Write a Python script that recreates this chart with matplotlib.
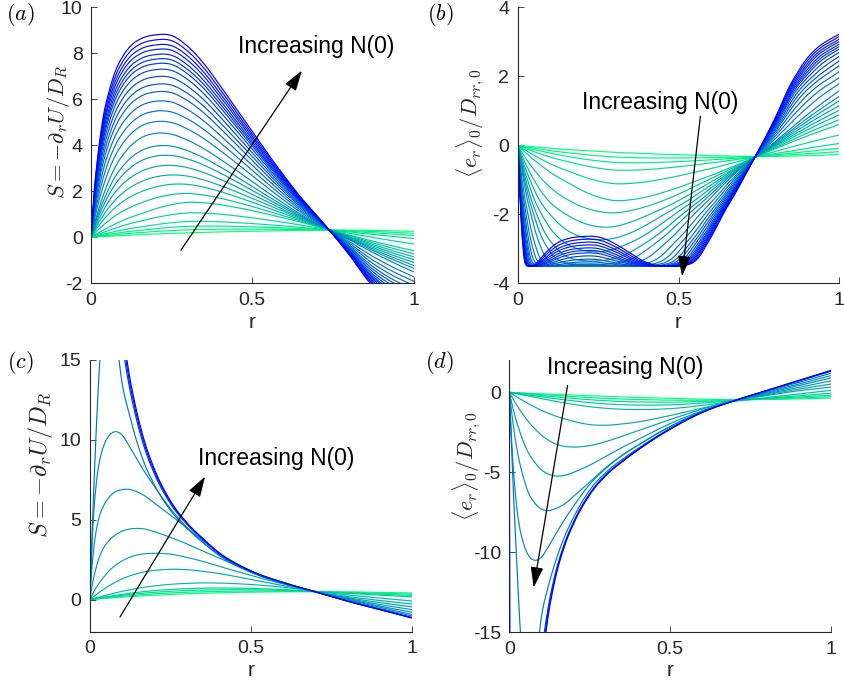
import numpy as np
import matplotlib
matplotlib.use("Agg")
import matplotlib.pyplot as plt

plt.rcParams['font.family'] = ['Liberation Sans', 'DejaVu Sans']
plt.rcParams['mathtext.fontset'] = 'cm'
plt.rcParams['axes.unicode_minus'] = False

# ---------------- data ----------------
# panels (a)/(b): radial grid and four read template curves of S(r)
r_ab = [0, 0.01, 0.02, 0.03, 0.04, 0.055, 0.075, 0.1, 0.125, 0.15, 0.2, 0.25, 0.3,
        0.35, 0.4, 0.45, 0.5, 0.55, 0.6, 0.65, 0.7, 0.736, 0.8, 0.866, 0.93, 1.0]
Sa_peak883 = [0, 2.0, 3.4, 4.5, 5.4, 6.3, 7.2, 7.9, 8.35, 8.6, 8.8, 8.77, 8.3,
              7.55, 6.6, 5.6, 4.6, 3.6, 2.65, 1.75, 0.95, 0.36, -0.75, -2.0, -2.8, -3.3]
Sa_peak453 = [0, 0.55, 1.05, 1.5, 1.9, 2.45, 3.05, 3.6, 4.0, 4.28, 4.52, 4.48, 4.22,
              3.85, 3.4, 2.92, 2.42, 1.93, 1.45, 1.0, 0.6, 0.35, -0.1, -0.6, -1.05, -1.5]
Sa_peak152 = [0, 0.09, 0.17, 0.25, 0.33, 0.44, 0.58, 0.74, 0.88, 1.0, 1.24, 1.42, 1.52,
              1.5, 1.42, 1.3, 1.16, 1.0, 0.84, 0.66, 0.48, 0.34, 0.1, -0.14, -0.36, -0.58]
Sa_peak020 = [0, 0.01, 0.02, 0.03, 0.035, 0.045, 0.06, 0.08, 0.1, 0.115, 0.145, 0.17, 0.195,
              0.215, 0.235, 0.25, 0.265, 0.28, 0.29, 0.3, 0.31, 0.315, 0.31, 0.3, 0.28, 0.26]
template_keys_a = [0.2, 1.52, 4.53, 8.83]
# peak heights of all curves in panel (a), low N(0) -> high N(0)
peaks_a = [0.2, 0.33, 0.48, 0.69, 1.06, 1.52, 1.95, 2.39, 2.79, 3.2, 3.62, 4.02, 4.53,
           5.04, 5.5, 5.93, 6.34, 6.67, 7.0, 7.31, 7.57, 7.77, 7.97, 8.19, 8.39, 8.61, 8.83]
# response <e_r>/D = -F(S) read by pairing panel (a) with panel (b)
F_S = [0, 0.5, 1, 1.5, 2, 2.5, 3, 3.3, 3.6, 4, 4.5, 5, 5.5, 6, 6.5, 7, 7.5, 8, 8.5, 9, 10]
F_val = [0, 0.52, 1.05, 1.58, 2.05, 2.55, 2.98, 3.22, 3.37, 3.46, 3.5, 3.5, 3.5, 3.48,
         3.41, 3.3, 3.14, 2.96, 2.76, 2.57, 2.2]

# panels (c)/(d): radial grid and read curves
r_cd = [0, 0.005, 0.01, 0.02, 0.03, 0.045, 0.06, 0.08, 0.1, 0.12, 0.14, 0.17, 0.2,
        0.25, 0.3, 0.35, 0.4, 0.5, 0.6, 0.69, 0.8, 0.9, 1.0]
c_green = [0, 0.01, 0.02, 0.04, 0.06, 0.08, 0.1, 0.13, 0.16, 0.19, 0.21, 0.25, 0.28,
           0.33, 0.37, 0.4, 0.43, 0.47, 0.49, 0.5, 0.49, 0.46, 0.42]
c_1p05 = [0, 0.03, 0.06, 0.12, 0.17, 0.25, 0.33, 0.43, 0.52, 0.6, 0.68, 0.78, 0.86,
          0.96, 1.02, 1.05, 1.04, 0.95, 0.78, 0.55, 0.3, 0.1, -0.08]
c_1p9 = [0, 0.08, 0.16, 0.32, 0.47, 0.68, 0.87, 1.1, 1.3, 1.46, 1.59, 1.74, 1.83,
         1.9, 1.88, 1.78, 1.64, 1.26, 0.88, 0.55, 0.2, -0.05, -0.27]
c_2p9 = [0, 0.2, 0.4, 0.75, 1.05, 1.45, 1.8, 2.15, 2.42, 2.62, 2.76, 2.87, 2.9,
         2.85, 2.65, 2.4, 2.1, 1.52, 0.98, 0.55, 0.13, -0.18, -0.45]
c_4p45 = [0, 0.6, 1.15, 2.0, 2.65, 3.3, 3.7, 4.05, 4.28, 4.4, 4.45, 4.42, 4.25,
          3.9, 3.5, 3.05, 2.62, 1.72, 1.03, 0.55, 0.08, -0.3, -0.62]
c_6p9 = [0, 1.5, 2.7, 4.3, 5.2, 5.95, 6.4, 6.75, 6.88, 6.9, 6.8, 6.5, 6.05,
         5.3, 4.5, 3.7, 2.95, 1.8, 1.05, 0.55, 0.04, -0.4, -0.78]
c_10p5 = [0, 2.5, 4.6, 7.2, 8.6, 9.7, 10.25, 10.5, 10.3, 9.7, 9.0, 8.0, 7.1,
          5.7, 4.55, 3.6, 2.8, 1.72, 1.02, 0.55, 0.0, -0.47, -0.92]
c_big = [0, 2.8, 5.5, 10.5, 14.5, 18.5, 19.5, 16.8, 13.6, 11.8, 10.3, 8.5, 7.2,
         5.6, 4.5, 3.6, 2.8, 1.75, 1.05, 0.55, -0.05, -0.55, -1.02]
c_env = [0, 80, 100, 85, 60, 38, 28, 21, 17.3, 14.4, 12.3, 9.9, 8.2,
         6.2, 4.85, 3.85, 2.95, 1.8, 1.08, 0.55, -0.1, -0.62, -1.15]
c_green_at04 = [0.43, 0.52, 0.62, 0.73]          # green curves, values at r = 0.4
c_env_share = [0.7, 0.85, 1.0]                    # bundle hugging the envelope

d_green = [0, -0.005, -0.01, -0.02, -0.03, -0.045, -0.06, -0.075, -0.09, -0.11, -0.125,
           -0.15, -0.17, -0.21, -0.25, -0.29, -0.32, -0.38, -0.43, -0.46, -0.45, -0.41, -0.36]
d_1p08 = [0, -0.02, -0.04, -0.08, -0.12, -0.18, -0.24, -0.32, -0.4, -0.48, -0.55, -0.66,
          -0.76, -0.9, -1.0, -1.06, -1.08, -1.02, -0.82, -0.58, -0.33, -0.1, 0.12]
d_2p06 = [0, -0.06, -0.12, -0.25, -0.37, -0.55, -0.72, -0.93, -1.13, -1.3, -1.46, -1.65,
          -1.82, -2.02, -2.06, -1.98, -1.85, -1.45, -0.98, -0.58, -0.2, 0.1, 0.33]
d_3p4 = [0, -0.18, -0.36, -0.7, -1.02, -1.45, -1.85, -2.3, -2.68, -2.98, -3.2, -3.37,
         -3.42, -3.33, -3.08, -2.75, -2.4, -1.7, -1.05, -0.58, -0.15, 0.2, 0.52]
d_5p2 = [0, -0.45, -0.88, -1.65, -2.3, -3.15, -3.8, -4.4, -4.85, -5.1, -5.22, -5.2,
         -5.0, -4.55, -4.0, -3.45, -2.95, -1.95, -1.15, -0.58, -0.1, 0.3, 0.72]
d_7p4 = [0, -0.9, -1.7, -3.1, -4.2, -5.4, -6.3, -6.95, -7.3, -7.4, -7.3, -7.0,
         -6.5, -5.6, -4.7, -3.95, -3.3, -2.12, -1.2, -0.58, -0.05, 0.42, 0.9]
d_10p5 = [0, -2.2, -4.0, -6.6, -8.2, -9.5, -10.2, -10.5, -10.3, -9.7, -9.0, -8.0,
          -7.1, -5.75, -4.75, -3.95, -3.3, -2.15, -1.2, -0.58, 0.0, 0.52, 1.05]
d_big = [0, -2.5, -5.0, -9.3, -13.4, -18, -19.6, -17.3, -14.0, -12.2, -10.8, -9.1,
         -7.8, -6.1, -5.0, -4.2, -3.5, -2.25, -1.22, -0.58, 0.06, 0.62, 1.2]
d_env = [0, -80, -100, -85, -62, -40, -29, -22, -17.4, -14.1, -11.9, -9.7,
         -8.2, -6.4, -5.2, -4.35, -3.6, -2.3, -1.25, -0.58, 0.12, 0.75, 1.38]
d_green_at04 = [-0.32, -0.45, -0.6, -0.8]
d_env_share = [0.7, 0.85, 1.0]

# colour positions on the winter map (1 = green, 0 = blue) for panels (c)/(d)
cd_color_pos = [1.0, 0.93, 0.86, 0.8, 0.74, 0.68, 0.64, 0.6, 0.57, 0.53, 0.45, 0.25, 0.12, 0.0]


# ---------------- helpers ----------------
def spline(x, y, xn):
    x = np.asarray(x, float); y = np.asarray(y, float); xn = np.asarray(xn, float)
    h = np.diff(x); d = np.diff(y) / h
    m = np.empty_like(y)
    m[0] = d[0]; m[-1] = d[-1]
    m[1:-1] = (h[1:] * d[:-1] + h[:-1] * d[1:]) / (h[:-1] + h[1:])
    idx = np.clip(np.searchsorted(x, xn) - 1, 0, len(h) - 1)
    t = (xn - x[idx]) / h[idx]
    h00 = 2 * t**3 - 3 * t**2 + 1
    h10 = t**3 - 2 * t**2 + t
    h01 = -2 * t**3 + 3 * t**2
    h11 = t**3 - t**2
    return h00 * y[idx] + h10 * h[idx] * m[idx] + h01 * y[idx + 1] + h11 * h[idx] * m[idx + 1]


rr = np.linspace(0, 1, 2001)
rr_cd = np.unique(np.concatenate([np.linspace(0, 0.05, 1001), np.linspace(0.05, 1, 2001)]))

tmpl_a = [spline(r_ab, t, rr) for t in (Sa_peak020, Sa_peak152, Sa_peak453, Sa_peak883)]
curves_a = []
for p in peaks_a:
    i = min(np.searchsorted(template_keys_a, p, side='right') - 1, len(template_keys_a) - 2)
    w = (p - template_keys_a[i]) / (template_keys_a[i + 1] - template_keys_a[i])
    curves_a.append((1 - w) * tmpl_a[i] + w * tmpl_a[i + 1])


def F(S):
    return np.sign(S) * spline(F_S, F_val, np.minimum(np.abs(S), 10))


curves_b = [-F(S) for S in curves_a]


def build_cd(green, first, rest, big, env, green_at04, env_share):
    G = spline(r_cd, green, rr_cd)
    M = spline(r_cd, first, rr_cd)
    g04 = green[r_cd.index(0.4)]; m04 = first[r_cd.index(0.4)]
    out = []
    for lv in green_at04:
        w = (lv - g04) / (m04 - g04)
        out.append((1 - w) * G + w * M)
    out.append(M)
    for t in rest:
        out.append(spline(r_cd, t, rr_cd))
    B = spline(r_cd, big, rr_cd); E = spline(r_cd, env, rr_cd)
    out.append(B)
    for s in env_share:
        out.append((1 - s) * B + s * E)
    return out


curves_c = build_cd(c_green, c_1p05, [c_1p9, c_2p9, c_4p45, c_6p9, c_10p5], c_big, c_env,
                    c_green_at04, c_env_share)
curves_d = build_cd(d_green, d_1p08, [d_2p06, d_3p4, d_5p2, d_7p4, d_10p5], d_big, d_env,
                    d_green_at04, d_env_share)

cmap = plt.get_cmap('winter')

# ---------------- figure ----------------
W, H = 844, 686
fig = plt.figure(figsize=(W / 100, H / 100), dpi=100)


def axes_px(x0, x1, ytop, ybot):
    return fig.add_axes([x0 / W, 1 - ybot / H, (x1 - x0) / W, (ybot - ytop) / H])


axA = axes_px(91, 413.5, 7.3, 283.3)
axB = axes_px(517.7, 839.3, 7.3, 283.3)
axC = axes_px(89.7, 412, 359.7, 631.7)
axD = axes_px(509.3, 831.3, 360.3, 632.3)

lw = 0.85
n = len(curves_a)
for k, y in enumerate(curves_a):
    axA.plot(rr, y, color=cmap(1 - k / (n - 1)), lw=lw)
for k, y in enumerate(curves_b):
    axB.plot(rr, y, color=cmap(1 - k / (n - 1)), lw=lw)
for k, y in enumerate(curves_c):
    axC.plot(rr_cd, y, color=cmap(cd_color_pos[k]), lw=lw)
for k, y in enumerate(curves_d):
    axD.plot(rr_cd, y, color=cmap(cd_color_pos[k]), lw=lw)

spec = [
    (axA, (-2, 10), [-2, 0, 2, 4, 6, 8, 10], r'$S=-\partial_r U/D_R$', 16, (-0.058, 0.55), '$(a)$', (20, 15),
     (0.279, -0.56), (0.654, 7.25), (0.457, 8.29)),
    (axB, (-4, 4), [-4, -2, 0, 2, 4], r'$\langle e_r\rangle_0/D_{rr,0}$', 16, (-0.095, 0.58), '$(b)$', (440, 15),
     (0.568, 0.84), (0.511, -3.8), (0.2, 1.23)),
    (axC, (-2, 15), [0, 5, 10, 15], r'$S=-\partial_r U/D_R$', 17.5, (-0.108, 0.615), '$(c)$', (20, 363),
     (0.094, -1.08), (0.358, 7.7), (0.337, 8.85)),
    (axD, (-15, 2), [-15, -10, -5, 0], r'$\langle e_r\rangle_0/D_{rr,0}$', 16, (-0.083, 0.61), '$(d)$', (439, 363),
     (0.181, 0.42), (0.0756, -12.2), (0.117, 1.52)),
]
axc = '#262626'
for ax, yl, yt, ylab, yfs, ylc, plab, plpos, tail, head, tpos in spec:
    ax.set_xlim(0, 1)
    ax.set_ylim(*yl)
    ax.set_xticks([0, 0.5, 1])
    ax.set_xticklabels(['0', '0.5', '1'])
    ax.set_yticks(yt)
    ax.set_yticklabels([str(v) for v in yt])
    for s in ('top', 'right'):
        ax.spines[s].set_visible(False)
    for s in ('left', 'bottom'):
        ax.spines[s].set_color(axc)
        ax.spines[s].set_linewidth(0.8)
    ax.tick_params(direction='in', length=4, width=0.6, colors=axc, labelsize=14, pad=6)
    ax.set_xlabel('r', fontsize=15, color=axc, va='center')
    ax.xaxis.set_label_coords(0.5, -0.142)
    ax.set_ylabel(ylab, fontsize=yfs, color=axc)
    ax.yaxis.set_label_coords(*ylc)
    fig.text(plpos[0] / W, 1 - plpos[1] / H, plab, fontsize=16, ha='center', va='center')
    ax.annotate('', xy=head, xytext=tail,
                arrowprops=dict(arrowstyle='-|>,head_length=0.9,head_width=0.28',
                                color='k', lw=0.9, mutation_scale=14, shrinkA=0, shrinkB=0))
    ax.text(tpos[0], tpos[1], 'Increasing N(0)', fontsize=16.5, ha='left', va='center', color='k')

fig.savefig('out.png', dpi=100)
